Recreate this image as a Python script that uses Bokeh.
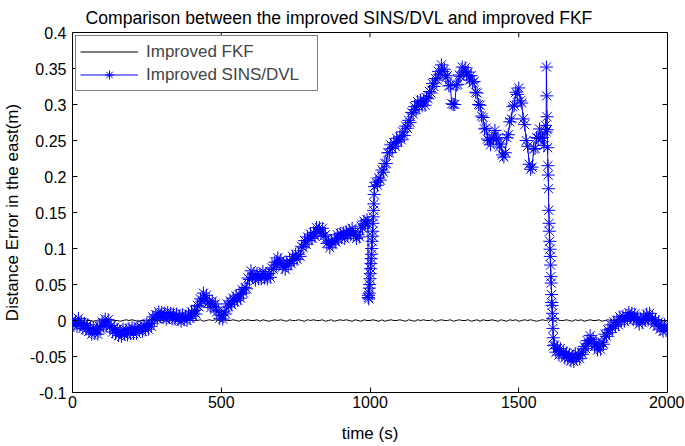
from bokeh.plotting import figure
from bokeh.models import (FixedTicker, Legend, LegendItem, Range1d,
                          ColumnDataSource, Title)
from bokeh.embed import file_html
from bokeh.resources import INLINE

# ---------------- data ----------------
title_text = "Comparison between the improved SINS/DVL and improved FKF"
x_ticks = [0, 500, 1000, 1500, 2000]
y_ticks = [-0.1, -0.05, 0.0, 0.05, 0.1, 0.15, 0.2, 0.25, 0.3, 0.35, 0.4]
y_tick_labels = ["-0.1", "-0.05", "0", "0.05", "0.1", "0.15", "0.2", "0.25", "0.3", "0.35", "0.4"]

# Improved FKF (black): nearly zero, sampled every 10 s
fkf_t = list(range(0, 2001, 10))
fkf_v = [
    0.000, 0.001, -0.001, 0.000, 0.001, 0.000, 0.000, -0.001, 0.000, 0.001,
    0.000, -0.001, 0.000, 0.001, 0.000, 0.000, -0.001, 0.000, 0.001, 0.000,
    0.001, 0.000, -0.001, 0.000, 0.000, -0.001, 0.001, 0.000, 0.001, 0.000,
    0.000, 0.001, -0.001, 0.000, 0.001, 0.000, 0.000, 0.001, -0.001, 0.000,
    0.001, 0.000, 0.000, 0.001, -0.001, 0.000, 0.001, 0.000, 0.001, 0.000,
    -0.001, 0.001, 0.000, 0.000, 0.001, 0.000, -0.001, 0.001, 0.000, 0.001,
    0.000, 0.000, 0.001, -0.001, 0.001, 0.000, -0.001, 0.000, 0.001, 0.000,
    0.001, 0.000, -0.001, 0.001, 0.000, 0.000, 0.001, 0.000, -0.001, 0.001,
    0.000, 0.001, 0.000, 0.000, 0.001, -0.001, 0.000, 0.001, -0.001, 0.000,
    0.001, 0.000, 0.001, 0.000, -0.001, 0.001, 0.000, -0.001, 0.001, 0.000,
    0.000, 0.001, 0.000, -0.001, 0.001, -0.001, 0.000, 0.001, 0.000, 0.000,
    0.001, 0.000, -0.001, 0.001, 0.000, -0.001, 0.001, 0.000, 0.001, 0.000,
    0.000, 0.001, -0.001, 0.000, 0.001, 0.000, 0.000, 0.001, -0.001, 0.000,
    0.001, 0.000, 0.000, 0.001, -0.001, 0.000, 0.001, -0.001, 0.001, 0.000,
    0.000, 0.001, 0.000, -0.001, 0.001, 0.000, -0.001, 0.001, 0.000, 0.001,
    -0.001, 0.000, 0.001, 0.000, 0.001, 0.000, -0.001, 0.000, 0.001, 0.000,
    0.001, 0.000, -0.001, 0.001, 0.000, 0.000, 0.001, 0.000, -0.001, 0.001,
    0.000, 0.001, -0.001, 0.000, 0.001, 0.000, 0.000, 0.001, -0.001, 0.000,
    0.001, 0.000, 0.001, 0.000, -0.001, 0.001, 0.000, -0.001, 0.001, 0.000,
    0.000, 0.001, 0.000, -0.001, 0.001, -0.001, 0.000, 0.001, 0.000, 0.000,
    0.000,
]

# Improved SINS/DVL (blue)
sins_t = sorted(
    list(range(0, 995, 5)) + [993,
    994, 995, 996, 997, 998, 999, 1000, 1001, 1002, 1003, 1004, 1005,
    1006, 1007, 1008, 1009, 1010, 1011, 1012, 1013, 1014, 1015]
    + list(range(1020, 1595, 5)) + [1592,
    1593, 1594, 1595, 1596, 1597, 1598, 1599, 1600, 1601, 1602, 1603, 1604,
    1605, 1606, 1607, 1608, 1609, 1610, 1611, 1612, 1613, 1614, 1615, 1616, 1617]
    + list(range(1620, 2001, 5))
)
sins_v = [
    # 0 - 990 every 5 s
    0.001, -0.007, -0.002, -0.008, 0.003, -0.006, -0.003, -0.011, -0.004, -0.012,
    -0.006, -0.015, -0.011, -0.019, -0.010, -0.018, -0.013, -0.019, -0.008, -0.012,
    -0.002, -0.007, 0.002, -0.007, 0.001, -0.009, -0.007, -0.016, -0.010, -0.018,
    -0.012, -0.021, -0.015, -0.022, -0.012, -0.019, -0.013, -0.020, -0.011, -0.018,
    -0.010, -0.018, -0.012, -0.018, -0.008, -0.014, -0.009, -0.015, -0.007, -0.013,
    -0.005, -0.012, -0.004, -0.008, 0.005, 0.001, 0.008, 0.003, 0.012, 0.005,
    0.011, 0.004, 0.010, 0.002, 0.011, 0.004, 0.010, 0.002, 0.009, 0.002,
    0.009, 0.001, 0.006, -0.001, 0.008, 0.001, 0.006, 0.000, 0.009, 0.003,
    0.012, 0.006, 0.014, 0.009, 0.021, 0.019, 0.030, 0.027, 0.038, 0.030,
    0.035, 0.024, 0.026, 0.018, 0.027, 0.019, 0.023, 0.012, 0.014, 0.003,
    0.007, 0.002, 0.012, 0.009, 0.023, 0.019, 0.027, 0.022, 0.031, 0.026,
    0.034, 0.028, 0.036, 0.031, 0.043, 0.038, 0.046, 0.044, 0.059, 0.057,
    0.069, 0.060, 0.065, 0.056, 0.065, 0.058, 0.064, 0.058, 0.068, 0.059,
    0.065, 0.058, 0.065, 0.060, 0.073, 0.071, 0.081, 0.077, 0.087, 0.079,
    0.084, 0.074, 0.079, 0.071, 0.081, 0.076, 0.083, 0.079, 0.089, 0.084,
    0.092, 0.085, 0.092, 0.089, 0.103, 0.101, 0.111, 0.106, 0.116, 0.111,
    0.120, 0.114, 0.122, 0.117, 0.129, 0.123, 0.129, 0.121, 0.128, 0.117,
    0.119, 0.107, 0.109, 0.101, 0.111, 0.106, 0.113, 0.109, 0.119, 0.113,
    0.121, 0.115, 0.122, 0.114, 0.123, 0.118, 0.125, 0.119, 0.128, 0.119,
    0.123, 0.114, 0.119, 0.116, 0.131, 0.128, 0.138, 0.135, 0.140,
    # 993 - 1015 (jump)
    0.134,
    0.032, 0.035, 0.030, 0.038, 0.045, 0.050, 0.058, 0.065, 0.072, 0.079, 0.086, 0.092,
    0.100, 0.110, 0.117, 0.124, 0.135, 0.144, 0.153, 0.162, 0.175, 0.186,
    # 1020 - 1590 every 5 s
    0.192, 0.188, 0.198, 0.195, 0.209, 0.206, 0.218, 0.218, 0.233, 0.233,
    0.244, 0.239, 0.247, 0.242, 0.253, 0.248, 0.255, 0.251, 0.262, 0.257,
    0.270, 0.267, 0.278, 0.275, 0.289, 0.287, 0.297, 0.293, 0.304, 0.298,
    0.306, 0.298, 0.305, 0.299, 0.310, 0.308, 0.318, 0.316, 0.329, 0.325,
    0.336, 0.334, 0.346, 0.342, 0.355, 0.346, 0.349, 0.337, 0.340, 0.326,
    0.326, 0.301, 0.300, 0.300, 0.327, 0.328, 0.341, 0.339, 0.352, 0.345,
    0.351, 0.341, 0.345, 0.334, 0.340, 0.330, 0.332, 0.317, 0.316, 0.300,
    0.299, 0.284, 0.282, 0.266, 0.267, 0.252, 0.250, 0.244, 0.254, 0.252,
    0.264, 0.252, 0.254, 0.241, 0.245, 0.230, 0.227, 0.233, 0.254, 0.258,
    0.276, 0.280, 0.297, 0.299, 0.317, 0.314, 0.323, 0.305, 0.302, 0.280,
    0.272, 0.250, 0.242, 0.217, 0.210, 0.213, 0.238, 0.239, 0.254, 0.253,
    0.266, 0.253, 0.254, 0.243, 0.271,
    # 1592 - 1617 (spike and fall)
    0.262,
    0.352, 0.312, 0.283, 0.265, 0.240, 0.215, 0.202, 0.183, 0.153, 0.135, 0.124, 0.110,
    0.099, 0.089, 0.077, 0.061, 0.052, 0.036, 0.025, 0.021, 0.010, 0.003, -0.011, -0.024, -0.035,
    # 1620 - 2000 every 5 s
    -0.034, -0.044, -0.039, -0.048, -0.039, -0.047, -0.043, -0.052, -0.045, -0.053,
    -0.047, -0.056, -0.050, -0.057, -0.046, -0.053, -0.047, -0.053, -0.044, -0.047,
    -0.036, -0.039, -0.028, -0.032, -0.021, -0.029, -0.026, -0.036, -0.032, -0.041,
    -0.036, -0.040, -0.030, -0.033, -0.019, -0.022, -0.013, -0.017, -0.006, -0.011,
    -0.002, -0.008, 0.000, -0.006, 0.005, 0.000, 0.006, -0.001, 0.007, 0.002,
    0.011, 0.004, 0.010, 0.001, 0.009, 0.000, 0.003, -0.005, 0.002, -0.003,
    0.006, 0.001, 0.009, 0.001, 0.010, 0.001, 0.004, -0.005, 0.001, -0.008,
    -0.002, -0.012, -0.007, -0.015, -0.006, -0.014, -0.010,
]
assert len(sins_t) == len(sins_v)

# ---------------- figure ----------------
FONT = "Liberation Sans"
TICK_LEN_X = 16.8     # 5 px in data units along x
TICK_LEN_Y = 0.0067   # 5 px in data units along y
X0, X1, Y0, Y1 = 0, 2000, -0.1, 0.4

p = figure(width=684, height=445, output_backend="svg", toolbar_location=None,
           x_range=Range1d(X0, X1), y_range=Range1d(Y0, Y1),
           min_border_left=72, min_border_right=17, min_border_top=24, min_border_bottom=48)
p.title = Title(text=title_text, align="left", offset=13,
                text_font=FONT, text_font_size="17.6px", text_font_style="normal",
                text_color="black", standoff=10)
p.xgrid.visible = False
p.ygrid.visible = False
p.outline_line_color = "black"
p.outline_line_width = 1
p.background_fill_color = "white"
p.border_fill_color = "white"

src_fkf = ColumnDataSource(dict(t=fkf_t, v=fkf_v))
src_sins = ColumnDataSource(dict(t=sins_t, v=sins_v))

r_fkf = p.line("t", "v", source=src_fkf, line_color="black", line_width=1)
r_sins_line = p.line("t", "v", source=src_sins, line_color="#0000ff", line_width=1)
r_sins_mark = p.scatter("t", "v", source=src_sins, marker="asterisk", size=13,
                        line_color="#0000ff", line_width=1)

overrides = {t: l for t, l in zip(y_ticks, y_tick_labels)}

for ax in [p.xaxis[0], p.yaxis[0]]:
    ax.major_tick_in = 5
    ax.major_tick_out = 0
    ax.minor_tick_in = 0
    ax.minor_tick_out = 0
    ax.axis_line_color = None
    ax.major_tick_line_color = "black"
    ax.major_label_text_font = FONT
    ax.major_label_text_font_size = "16px"
    ax.major_label_text_color = "black"
    ax.axis_label_text_font = FONT
    ax.axis_label_text_font_size = "17px"
    ax.axis_label_text_font_style = "normal"
    ax.axis_label_text_color = "black"

p.xaxis[0].ticker = FixedTicker(ticks=x_ticks)
p.xaxis[0].axis_label = "time (s)"
p.xaxis[0].major_label_standoff = 3
p.xaxis[0].axis_label_standoff = 13
p.yaxis[0].ticker = FixedTicker(ticks=y_ticks)
p.yaxis[0].major_label_overrides = overrides
p.yaxis[0].axis_label = "Distance Error in the east(m)"
p.yaxis[0].major_label_standoff = 6
p.yaxis[0].axis_label_standoff = 5

# box ticks on the top and right edges
p.segment(x0=x_ticks, y0=[Y1] * len(x_ticks), x1=x_ticks,
          y1=[Y1 - TICK_LEN_Y] * len(x_ticks), line_color="black", line_width=1)
p.segment(x0=[X1] * len(y_ticks), y0=y_ticks, x1=[X1 - TICK_LEN_X] * len(y_ticks),
          y1=y_ticks, line_color="black", line_width=1)

legend = Legend(items=[
    LegendItem(label="Improved FKF", renderers=[r_fkf]),
    LegendItem(label="Improved SINS/DVL", renderers=[r_sins_line, r_sins_mark]),
], location="top_left")
legend.margin = 3
legend.padding = 4
legend.spacing = 0
legend.glyph_width = 58
legend.glyph_height = 23
legend.label_height = 23
legend.label_width = 167
legend.label_standoff = 8
legend.label_text_font = FONT
legend.label_text_font_size = "17px"
legend.border_line_color = "black"
legend.border_line_width = 1
legend.background_fill_alpha = 1
p.add_layout(legend, "center")

open("out.html", "w").write(file_html(p, INLINE))
